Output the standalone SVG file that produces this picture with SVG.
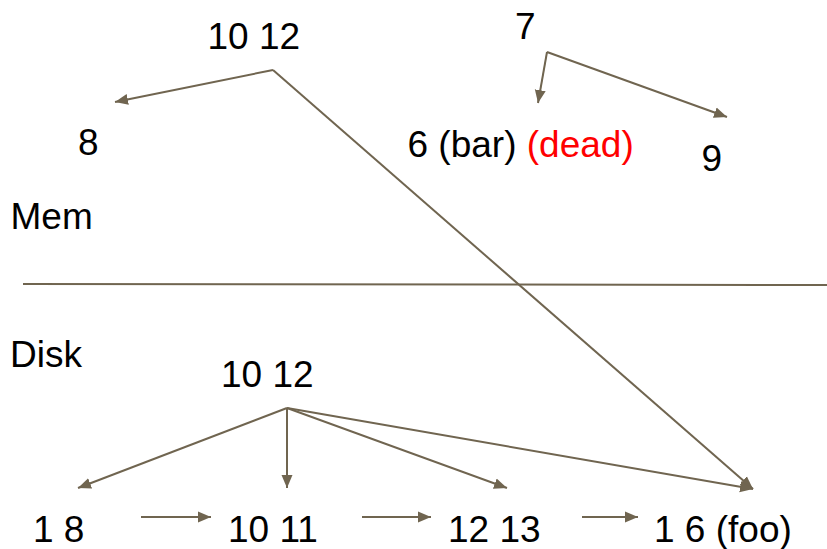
<svg xmlns="http://www.w3.org/2000/svg" width="827" height="549" viewBox="0 0 827 549">
<style>
text{font-family:"Liberation Sans",Arial,sans-serif;font-size:37px;fill:#000}
.red{fill:#ff0000}
.c{stroke:#706550;stroke-width:2;fill:none}
.a{marker-end:url(#ah)}
</style>
<defs>
<marker id="ah" markerUnits="userSpaceOnUse" markerWidth="14" markerHeight="12" refX="13" refY="5.5" orient="auto" viewBox="0 0 14 11">
<path d="M0,0 L13,5.5 L0,11 z" fill="#706550"/>
</marker>
</defs>
<rect width="827" height="549" fill="#fff"/>
<g id="divider"><line class="c" x1="23" y1="284" x2="827" y2="285"/></g>
<g id="connectors">
<path class="c a" d="M273,70 L115,102"/>
<path class="c a" d="M273,70 L753,489"/>
<path class="c a" d="M547,52 L538,103"/>
<path class="c a" d="M547,52 L727,117"/>
<path class="c a" d="M287,408 L78,488"/>
<path class="c a" d="M287,408 L287,488"/>
<path class="c a" d="M287,408 L507,488"/>
<path class="c a" d="M287,408 L753,489"/>
<path class="c a" d="M141,517 L211,517"/>
<path class="c a" d="M362,517 L431,517"/>
<path class="c a" d="M582,517 L638,517"/>
</g>
<g id="mem-root"><text x="207.5" y="49">10 12</text></g>
<g id="mem-7"><text x="515" y="39">7</text></g>
<g id="mem-8"><text x="78" y="155">8</text></g>
<g id="mem-6"><text x="407.5" y="157">6 (bar) <tspan class="red">(dead)</tspan></text></g>
<g id="mem-9"><text x="701.5" y="171">9</text></g>
<g id="label-mem"><text x="10.5" y="229">Mem</text></g>
<g id="label-disk"><text x="10" y="367">Disk</text></g>
<g id="disk-root"><text x="221" y="387">10 12</text></g>
<g id="disk-1-8"><text x="33" y="542">1 8</text></g>
<g id="disk-10-11"><text x="228" y="542">10 11</text></g>
<g id="disk-12-13"><text x="448" y="542">12 13</text></g>
<g id="disk-1-6"><text x="654" y="542">1 6 (foo)</text></g>
</svg>
